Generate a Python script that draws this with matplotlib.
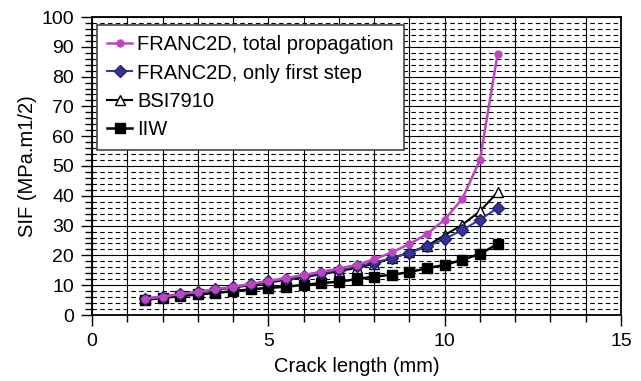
import numpy as np
import matplotlib.pyplot as plt
from matplotlib.ticker import MultipleLocator

plt.rcParams['font.family'] = ['Liberation Sans', 'DejaVu Sans']

# crack length (mm)
crack = [1.5, 2, 2.5, 3, 3.5, 4, 4.5, 5, 5.5, 6, 6.5, 7, 7.5, 8, 8.5,
         9, 9.5, 10, 10.5, 11, 11.5]

franc_total = [5.5, 6.2, 7.0, 7.8, 8.6, 9.5, 10.4, 11.4, 12.4, 13.4, 14.5,
               15.6, 16.8, 18.7, 21.0, 23.8, 27.2, 32.0, 39.0, 52.0, 87.5]
franc_first = [5.5, 6.2, 7.0, 7.8, 8.6, 9.4, 10.3, 11.3, 12.2, 13.1, 14.1,
               15.1, 16.3, 17.6, 19.1, 20.8, 23.0, 25.5, 28.5, 32.0, 35.9]
bsi7910 = [5.4, 6.1, 6.9, 7.6, 8.4, 9.2, 10.0, 10.9, 11.8, 12.7, 13.7,
           14.7, 15.8, 17.2, 19.0, 21.0, 23.2, 26.8, 30.3, 34.8, 41.2]
iiw = [5.0, 5.8, 6.3, 6.9, 7.4, 8.0, 8.6, 9.1, 9.5, 10.1, 10.7, 11.2,
       12.0, 12.9, 13.5, 14.4, 15.7, 16.8, 18.5, 20.5, 23.8]

fig = plt.figure(figsize=(6.41, 3.81), dpi=100)
ax = fig.add_axes([92 / 641, 66 / 381, 529 / 641, 298 / 381])

ax.plot(crack, franc_total, "o-", color="#BF45BF", lw=1.8, ms=5,
        label="FRANC2D, total propagation", zorder=5)
ax.plot(crack, franc_first, "D-", color="#3A3AA0", mfc="#333399", mec="#222266",
        lw=1.5, ms=6, label="FRANC2D, only first step", zorder=4)
ax.plot(crack, bsi7910, "^-", color="black", mfc="white", mec="black",
        lw=1.5, ms=7, label="BSI7910", zorder=3)
ax.plot(crack, iiw, "s-", color="black", lw=1.8, ms=7.5,
        label="IIW", zorder=3)

ax.set_xlim(0, 15)
ax.set_ylim(0, 100)
ax.xaxis.set_major_locator(MultipleLocator(5))
ax.xaxis.set_minor_locator(MultipleLocator(1))
ax.yaxis.set_major_locator(MultipleLocator(10))
ax.yaxis.set_minor_locator(MultipleLocator(2))

ax.grid(True, axis="x", which="both", color="black", lw=0.8)
ax.grid(True, axis="y", which="major", color="black", lw=0.8)
ax.grid(True, axis="y", which="minor", color="black", lw=0.8, ls=(0, (4, 3)))
ax.set_axisbelow(True)

ax.tick_params(which="major", direction="out", length=8, width=1,
               labelsize=14, pad=5)
ax.tick_params(which="minor", direction="out", length=5, width=1)
for s in ax.spines.values():
    s.set_linewidth(1.3)

ax.set_xlabel("Crack length (mm)", fontsize=14.5, labelpad=5)
ax.set_ylabel("SIF (MPa.m1/2)", fontsize=14.5, labelpad=3)

leg = ax.legend(loc="upper left", bbox_to_anchor=(5 / 529, 1 - 8 / 298),
                borderaxespad=0, fontsize=14.5,
                fancybox=False, framealpha=1, edgecolor="#444444",
                handlelength=1.25, handletextpad=0.25, labelspacing=0.47,
                borderpad=0.5)
leg.get_frame().set_linewidth(1.2)
leg.set_zorder(10)

fig.savefig("out.png", dpi=100)
